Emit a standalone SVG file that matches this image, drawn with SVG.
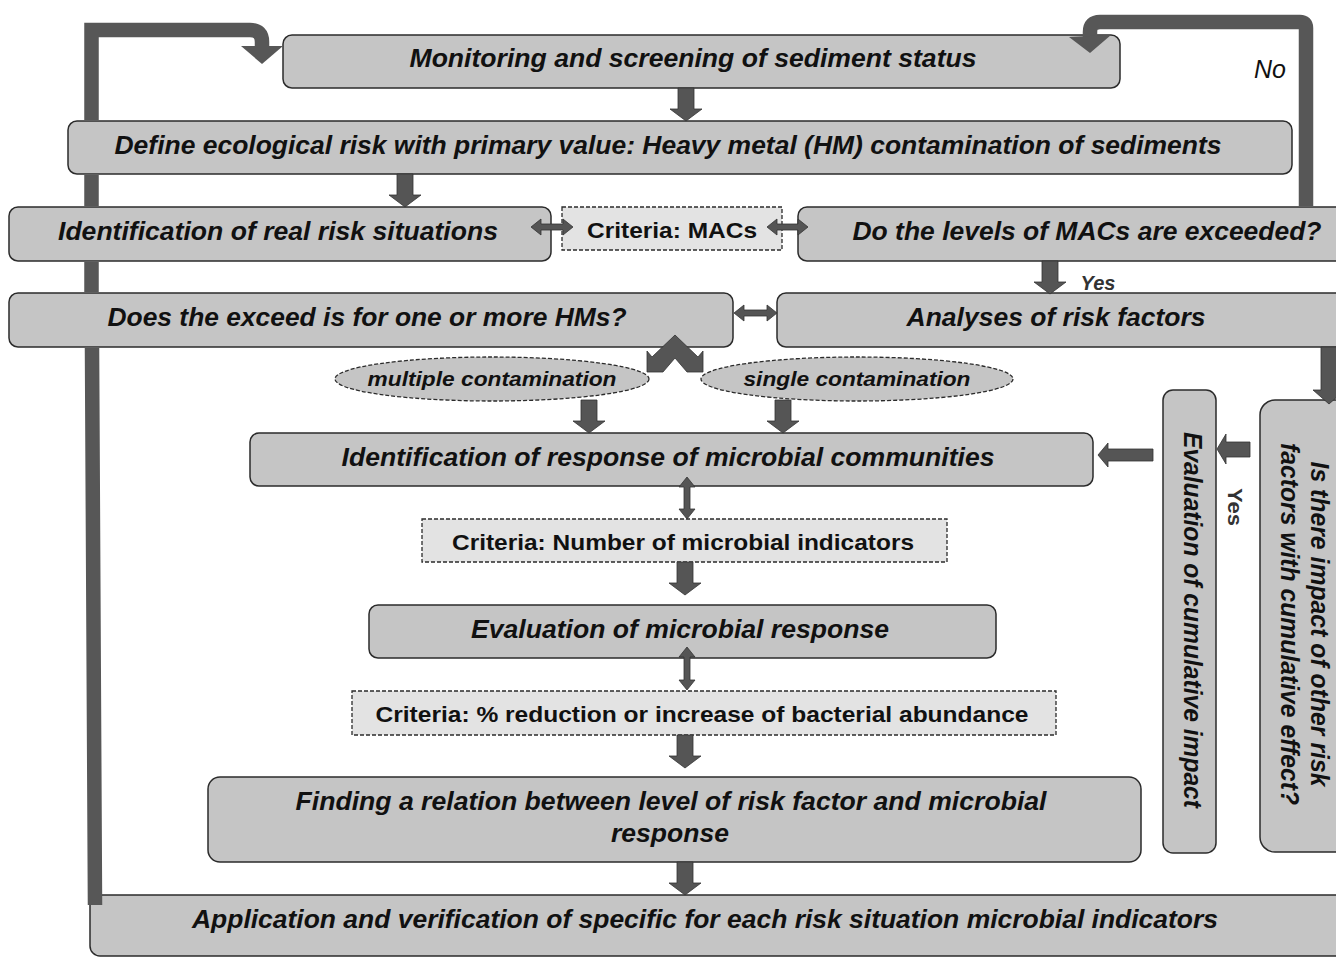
<svg xmlns="http://www.w3.org/2000/svg" width="1336" height="957" viewBox="0 0 1336 957">
<style>
.box{fill:#c5c5c5;stroke:#2b2b2b;stroke-width:1.5}
.crit{fill:#e3e3e3;stroke:#2b2b2b;stroke-width:1.3;stroke-dasharray:4 2}
.ell{fill:#c5c5c5;stroke:#2b2b2b;stroke-width:1.3;stroke-dasharray:4 2}
.t{font-family:"Liberation Sans",Arial,sans-serif;font-weight:bold;font-style:italic;font-size:25px;fill:#111;text-anchor:middle}
.c{font-family:"Liberation Sans",Arial,sans-serif;font-weight:bold;font-size:22px;fill:#111;text-anchor:middle}
.e{font-family:"Liberation Sans",Arial,sans-serif;font-weight:bold;font-style:italic;font-size:21px;fill:#111;text-anchor:middle}
.arr{fill:#555;stroke:#333;stroke-width:0.8}
.loop{fill:none;stroke:#575757;stroke-width:14.5}
</style>
<defs>
<path id="down" d="M -8 0 H 8 V 21 H 16 L 0 33 L -16 21 H -8 Z"/>
</defs>
<rect width="1336" height="957" fill="#fff"/>

<g id="n1"><rect class="box" x="283" y="35" width="837" height="53" rx="9"/><text class="t" x="693" y="67" textLength="567" lengthAdjust="spacingAndGlyphs">Monitoring and screening of sediment status</text></g>
<g id="n2"><rect class="box" x="68" y="121" width="1224" height="53" rx="9"/><text class="t" x="668" y="154" textLength="1107" lengthAdjust="spacingAndGlyphs">Define ecological risk with primary value: Heavy metal (HM) contamination of sediments</text></g>
<g id="n3"><rect class="box" x="9" y="207" width="542" height="54" rx="9"/><text class="t" x="278" y="240" textLength="440" lengthAdjust="spacingAndGlyphs">Identification of real risk situations</text></g>
<g id="n4"><rect class="crit" x="562" y="207" width="220" height="43"/><text class="c" x="672" y="238" textLength="170" lengthAdjust="spacingAndGlyphs">Criteria: MACs</text></g>
<g id="n5"><rect class="box" x="798" y="207" width="550" height="54" rx="9"/><text class="t" x="1087" y="240" textLength="469" lengthAdjust="spacingAndGlyphs">Do the levels of MACs are exceeded?</text></g>
<g id="n6"><rect class="box" x="9" y="293" width="724" height="54" rx="9"/><text class="t" x="367" y="326" textLength="519" lengthAdjust="spacingAndGlyphs">Does the exceed is for one or more HMs?</text></g>
<g id="n7"><rect class="box" x="777" y="293" width="570" height="54" rx="9"/><text class="t" x="1056" y="326" textLength="299" lengthAdjust="spacingAndGlyphs">Analyses of risk factors</text></g>
<g id="n8"><ellipse class="ell" cx="492" cy="379" rx="157" ry="22"/><text class="e" x="492" y="386" textLength="249" lengthAdjust="spacingAndGlyphs">multiple contamination</text></g>
<g id="n9"><ellipse class="ell" cx="857" cy="379" rx="156" ry="22"/><text class="e" x="857" y="386" textLength="227" lengthAdjust="spacingAndGlyphs">single contamination</text></g>
<g id="n10"><rect class="box" x="250" y="433" width="843" height="53" rx="9"/><text class="t" x="668" y="466" textLength="653" lengthAdjust="spacingAndGlyphs">Identification of response of microbial communities</text></g>
<g id="n11"><rect class="crit" x="422" y="519" width="525" height="43"/><text class="c" x="683" y="550" textLength="462" lengthAdjust="spacingAndGlyphs">Criteria: Number of microbial indicators</text></g>
<g id="n12"><rect class="box" x="369" y="605" width="627" height="53" rx="9"/><text class="t" x="680" y="638" textLength="418" lengthAdjust="spacingAndGlyphs">Evaluation of microbial response</text></g>
<g id="n13"><rect class="crit" x="352" y="691" width="704" height="44"/><text class="c" x="702" y="722" textLength="653" lengthAdjust="spacingAndGlyphs">Criteria: % reduction or increase of bacterial abundance</text></g>
<g id="n14"><rect class="box" x="208" y="777" width="933" height="85" rx="12"/><text class="t" x="671" y="810" textLength="751" lengthAdjust="spacingAndGlyphs">Finding a relation between level of risk factor and microbial</text><text class="t" x="670" y="842" textLength="118" lengthAdjust="spacingAndGlyphs">response</text></g>
<g id="n15"><rect class="box" x="90" y="895" width="1260" height="61" rx="10"/><text class="t" x="705" y="928" textLength="1026" lengthAdjust="spacingAndGlyphs">Application and verification of specific for each risk situation microbial indicators</text></g>
<g id="n16"><rect class="box" x="1163" y="390" width="53" height="463" rx="10"/><text class="t" transform="translate(1184,620) rotate(90)" textLength="376" lengthAdjust="spacingAndGlyphs">Evaluation of cumulative impact</text></g>
<g id="n17"><rect class="box" x="1260" y="400" width="100" height="452" rx="15"/><text class="t" transform="translate(1311,624) rotate(90)" textLength="325" lengthAdjust="spacingAndGlyphs">Is there impact of other risk</text><text class="t" transform="translate(1281,624) rotate(90)" textLength="362" lengthAdjust="spacingAndGlyphs">factors with cumulative effect?</text></g>

<g id="connectors">
<path class="loop" d="M 91.5 120 V 30 H 250 Q 262 30 262 42 V 48"/>
<path class="loop" d="M 91.5 175 V 206 M 91.5 262 V 292 M 92 348 L 95 905"/>
<polygon points="241,46 283,46 262,64" fill="#575757"/>
<path class="loop" stroke-width="13" d="M 1306 206 V 28 Q 1306 22 1300 22 H 1100 Q 1090 22 1090 32 V 38"/>
<polygon points="1069,37 1111,35 1090,53" fill="#575757"/>

<use href="#down" class="arr" x="686" y="88"/>
<use href="#down" class="arr" x="405" y="174"/>
<use href="#down" class="arr" x="1050" y="261"/>
<use href="#down" class="arr" x="589" y="400"/>
<use href="#down" class="arr" x="783" y="400"/>
<use href="#down" class="arr" x="685" y="562"/>
<use href="#down" class="arr" x="685" y="735"/>
<use href="#down" class="arr" x="685" y="862"/>
<path class="arr" d="M 1321 347 H 1337 V 390 H 1345 L 1329 404 L 1313 390 H 1321 Z"/>

<path class="arr" d="M 531 227 L 541 219 V 224 H 563 V 219 L 573 227 L 563 235 V 230 H 541 V 235 Z"/>
<path class="arr" d="M 767 227 L 777 219 V 224 H 798 V 219 L 808 227 L 798 235 V 230 H 777 V 235 Z"/>
<path class="arr" d="M 734 313 L 744 305 V 310 H 767 V 305 L 777 313 L 767 321 V 316 H 744 V 321 Z"/>
<path class="arr" d="M 687 477 L 695 487 H 690 V 509 H 695 L 687 519 L 679 509 H 684 V 487 H 679 Z"/>
<path class="arr" d="M 687 647 L 695 657 H 690 V 680 H 695 L 687 690 L 679 680 H 684 V 657 H 679 Z"/>

<polygon class="arr" points="675,335 652,357 647,351 647,372 663,372 675,358 687,372 703,372 703,351 698,357"/>

<path class="arr" d="M 1098 455 L 1108 443 V 449 H 1153 V 461 H 1108 V 467 Z"/>
<path class="arr" d="M 1217 449 L 1226 434 V 442 H 1250 V 457 H 1226 V 464 Z"/>

<text x="1098" y="290" font-family="Liberation Sans,Arial,sans-serif" font-weight="bold" font-style="italic" font-size="20" fill="#333" text-anchor="middle">Yes</text>
<text transform="translate(1228,507) rotate(90)" font-family="Liberation Sans,Arial,sans-serif" font-weight="bold" font-size="21" fill="#333" text-anchor="middle" textLength="38" lengthAdjust="spacingAndGlyphs">Yes</text>
<text x="1270" y="78" font-family="Liberation Sans,Arial,sans-serif" font-style="italic" font-size="25" fill="#111" text-anchor="middle">No</text>
</g>
</svg>
